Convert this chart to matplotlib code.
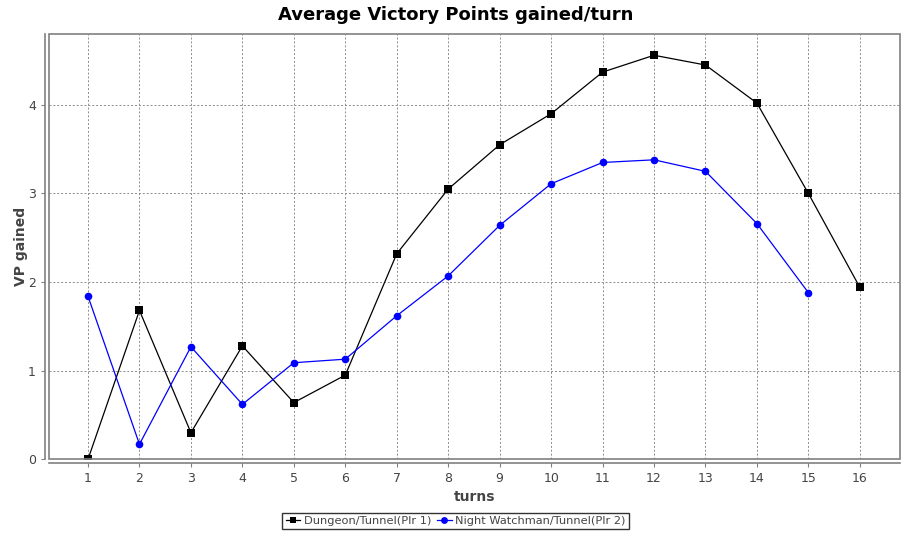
import matplotlib
matplotlib.use("Agg")
import matplotlib.pyplot as plt
from matplotlib.patches import Rectangle

TURNS = list(range(1, 17))
DUNGEON = [0.0, 1.68, 0.30, 1.28, 0.64, 0.95, 2.32, 3.05, 3.55, 3.90,
           4.37, 4.56, 4.45, 4.02, 3.00, 1.94]
WATCHMAN = [1.84, 0.17, 1.27, 0.62, 1.09, 1.13, 1.62, 2.07, 2.64, 3.11,
            3.35, 3.38, 3.25, 2.66, 1.88]

GRID_COLOR = "#8c8c8c"
AXIS_COLOR = "#808080"
TEXT_COLOR = "#444444"

fig = plt.figure(figsize=(9.11, 5.33), dpi=100)
ax = fig.add_axes([49 / 911, 1 - 459.3 / 533, 851 / 911, 425.3 / 533])

ax.plot(TURNS, DUNGEON, color="black", linewidth=0.9, marker="s",
        markersize=5.5, markeredgewidth=0, label="Dungeon/Tunnel(Plr 1)", zorder=4)
ax.plot(TURNS[:len(WATCHMAN)], WATCHMAN, color="#0000ff", linewidth=0.9, marker="o",
        markersize=5.5, markeredgewidth=0, label="Night Watchman/Tunnel(Plr 2)", zorder=5)

ax.set_xlim(0.242, 16.78)
ax.set_ylim(0, 4.80)
ax.set_xticks(TURNS)
ax.set_yticks([0, 1, 2, 3, 4])

ax.grid(True, color=GRID_COLOR, linestyle=(0, (2, 2)), linewidth=0.7)
ax.set_axisbelow(True)

# plot outline, plus JFreeChart-style axis lines offset outward
for side in ("top", "right"):
    ax.spines[side].set_visible(False)
for side in ("left", "bottom"):
    ax.spines[side].set_position(("outward", 3))
    ax.spines[side].set_color(AXIS_COLOR)
    ax.spines[side].set_linewidth(1.2)
ax.add_patch(Rectangle((0, 0), 1, 1, transform=ax.transAxes, fill=False,
                       edgecolor=AXIS_COLOR, linewidth=1.2, zorder=6, clip_on=False))

ax.tick_params(axis="both", colors=AXIS_COLOR, labelcolor=TEXT_COLOR,
               labelsize=9, length=3, width=0.8, direction="out")

ax.set_xlabel("turns", fontsize=10, fontweight="bold", color=TEXT_COLOR, labelpad=3)
ax.set_ylabel("VP gained", fontsize=10, fontweight="bold", color=TEXT_COLOR, labelpad=0)
fig.suptitle("Average Victory Points gained/turn", fontsize=13, fontweight="bold",
             y=1 - 15 / 533, va="center")

leg = fig.legend(loc="center", bbox_to_anchor=(455.5 / 911, 1 - 521 / 533), ncol=2,
                 frameon=True, fancybox=False, fontsize=8.2, handlelength=1.3,
                 handletextpad=0.3, columnspacing=0.5, borderpad=0.3,
                 borderaxespad=0, markerscale=0.9)
leg.get_frame().set_edgecolor("black")
leg.get_frame().set_linewidth(1.0)
for t in leg.get_texts():
    t.set_color(TEXT_COLOR)

fig.savefig("out.png", dpi=100)
